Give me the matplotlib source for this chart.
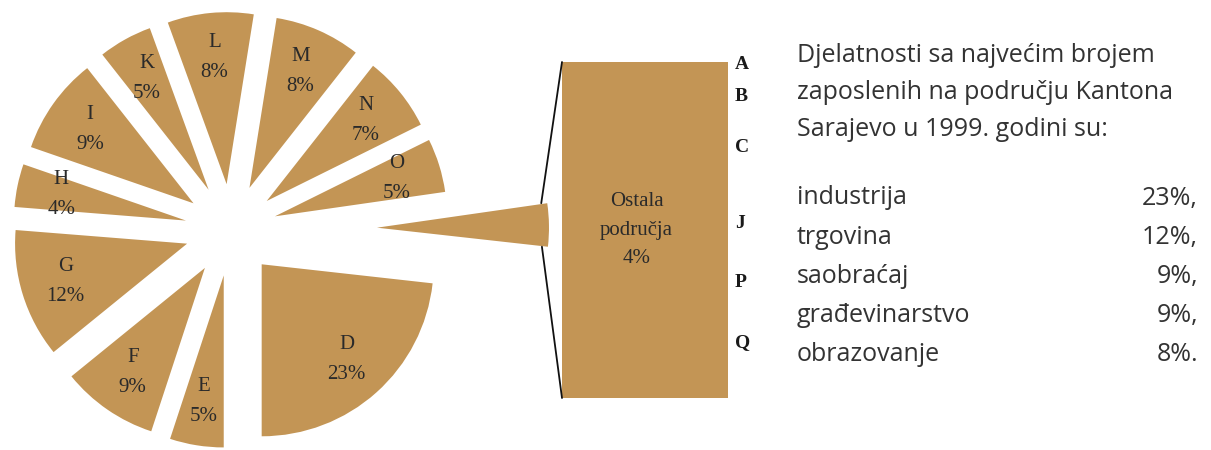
import matplotlib.pyplot as plt
from matplotlib.patches import ConnectionPatch
import numpy as np

# pie slices, counterclockwise from the bottom
pie_names = ['D', 'Ostala', 'O', 'N', 'M', 'L', 'K', 'I', 'H', 'G', 'F', 'E']
pie_values = [23, 4, 5, 7, 8, 8, 5, 9, 4, 12, 9, 5]

# breakdown of "Ostala područja" (top to bottom)
bar_names = ['A', 'B', 'C', 'J', 'P', 'Q']
bar_values = [0.07, 0.67, 0.55, 1.26, 0.14, 1.31]

intro_lines = ['Djelatnosti sa najvećim brojem',
               'zaposlenih na području Kantona',
               'Sarajevo u 1999. godini su:']
top_names = ['industrija', 'trgovina', 'saobraćaj', 'građevinarstvo', 'obrazovanje']
top_values = ['23%,', '12%,', '9%,', '9%,', '8%.']

color = '#c39555'
serif = ['Liberation Serif', 'DejaVu Serif']

fig = plt.figure(figsize=(12.11, 4.5), dpi=100)
ax = fig.add_axes([0, 0, 1, 1])

labels = ['' if n == 'Ostala' else f'{n}\n{v}%' for n, v in zip(pie_names, pie_values)]
explode = [146 if n == 'Ostala' else 46 for n in pie_names]
wedges, texts = ax.pie(pie_values, labels=labels, explode=explode,
                       startangle=-90, counterclock=True,
                       center=(231, 220), radius=172, colors=[color] * len(pie_values),
                       labeldistance=0.74, wedgeprops=dict(linewidth=0),
                       textprops=dict(family=serif, fontsize=15, color='#2a2a2a',
                                      ha='center', va='center', linespacing=1.8))
ax.set_xlim(0, 1211)
ax.set_ylim(0, 450)
ax.set_aspect('equal')
ax.axis('off')

# bar for the "other" group
ax2 = fig.add_axes([562 / 1211, 52 / 450, 166 / 1211, 336 / 450])
ax2.set_xlim(-0.5, 0.5)
ax2.set_ylim(0, sum(bar_values))
ax2.axis('off')
bottom = sum(bar_values)
for name, v in zip(bar_names, bar_values):
    bottom -= v
    ax2.bar(0, v, bottom=bottom, width=1, color=color, linewidth=0)
    ax2.text(0.54, bottom + v / 2, name, ha='left', va='center', family=serif,
             fontsize=14, fontweight='bold', color='#1a1a1a', clip_on=False)
ax2.text(-0.05, sum(bar_values) / 2, 'Ostala\npodručja\n4%', ha='center', va='center',
         family=serif, fontsize=15, color='#2a2a2a', linespacing=1.7)

# connector lines
w = wedges[pie_names.index('Ostala')]
cx, cy = w.center
for th, yb in [(w.theta2, sum(bar_values)), (w.theta1, 0)]:
    p = (cx + w.r * np.cos(np.radians(th)) - 6, cy + w.r * np.sin(np.radians(th)))
    con = ConnectionPatch(xyA=p, coordsA=ax.transData, xyB=(-0.5, yb), coordsB=ax2.transData,
                          color='#111111', linewidth=1.3)
    fig.add_artist(con)

# text block on the right
sans = ['Open Sans', 'DejaVu Sans']
for i, line in enumerate(intro_lines):
    ax.text(797, 395 - i * 37.5, line, ha='left', va='center', family=sans,
            fontsize=18, color='#333333')
for i, (n, v) in enumerate(zip(top_names, top_values)):
    y = 252 - i * 39.2
    ax.text(797, y, n, ha='left', va='center', family=sans,
            fontsize=18, color='#333333')
    ax.text(1198, y, v, ha='right', va='center', family=sans,
            fontsize=18, color='#333333')

fig.savefig('out.png', dpi=100)
